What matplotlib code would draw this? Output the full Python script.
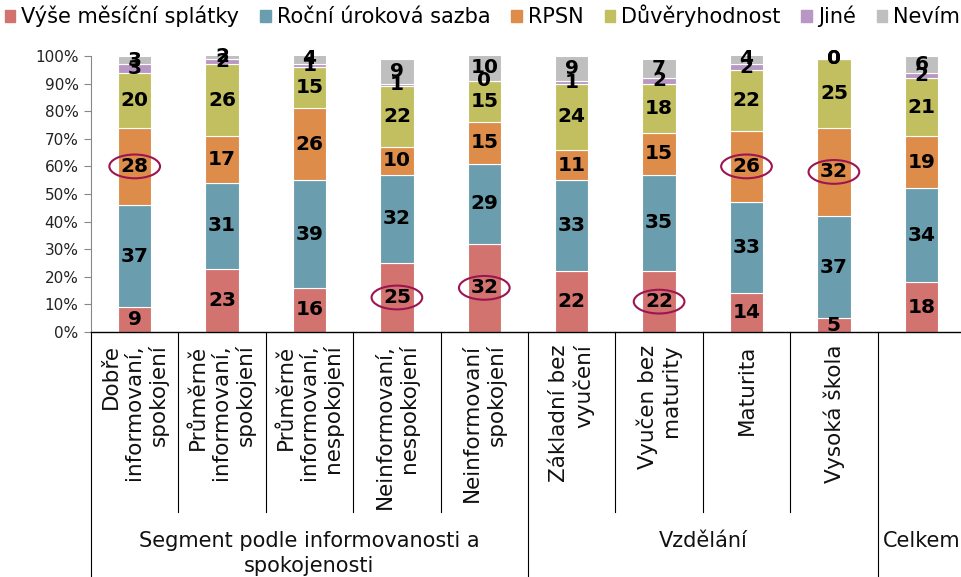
import numpy as np
import matplotlib
matplotlib.use("Agg")
import matplotlib.pyplot as plt
import matplotlib.patches as patches
from matplotlib.lines import Line2D
import matplotlib.transforms as mtransforms

categories = [
    "Dobře\ninformovaní,\nspokojení",
    "Průměrně\ninformovaní,\nspokojení",
    "Průměrně\ninformovaní,\nnespokojení",
    "Neinformovaní,\nnespokojení",
    "Neinformovaní\nspokojení",
    "Základní bez\nvyučení",
    "Vyučen bez\nmaturity",
    "Maturita",
    "Vysoká škola",
    "",
]
groups = ["Segment podle informovanosti a\nspokojenosti", "Vzdělání", "Celkem"]
group_spans = [(0, 4), (5, 8), (9, 9)]

series_names = ["Výše měsíční splátky", "Roční úroková sazba", "RPSN",
                "Důvěryhodnost", "Jiné", "Nevím"]
vyse = [9, 23, 16, 25, 32, 22, 22, 14, 5, 18]
rocni = [37, 31, 39, 32, 29, 33, 35, 33, 37, 34]
rpsn = [28, 17, 26, 10, 15, 11, 15, 26, 32, 19]
duvera = [20, 26, 15, 22, 15, 24, 18, 22, 25, 21]
jine = [3, 2, 1, 1, 0, 1, 2, 2, 0, 2]
nevim = [3, 2, 4, 9, 10, 9, 7, 4, 0, 6]

# (category, series) pairs that get a highlight ring
highlighted = [(0, 2), (3, 0), (4, 0), (6, 0), (7, 2), (8, 2)]

colors = ["#d27370", "#6a9eae", "#de8c4a", "#c2bf60", "#b997c5", "#bfbfbf"]

data = np.array([vyse, rocni, rpsn, duvera, jine, nevim], dtype=float)
x = np.arange(len(categories))

fig = plt.figure(figsize=(9.62, 5.77), dpi=100)
ax = fig.add_axes([91 / 962, 1 - 332 / 577, 874 / 962, 276 / 577])

bottom = np.zeros(len(categories))
for i, (name, vals) in enumerate(zip(series_names, data)):
    ax.bar(x, vals, bottom=bottom, width=0.38, color=colors[i],
           edgecolor="white", linewidth=0.8, label=name, zorder=2)
    for j, v in enumerate(vals):
        yc = bottom[j] + v / 2
        ax.text(x[j], yc, f"{v:.0f}", ha="center", va="center",
                fontsize=14.5, fontweight="bold", color="black", zorder=4,
                clip_on=False)
        if (j, i) in highlighted:
            ell = patches.Ellipse((x[j], yc), 0.58, 8.6, fill=False,
                                  edgecolor="#9c1550", linewidth=1.5,
                                  zorder=5, clip_on=False)
            ax.add_patch(ell)
    bottom += vals

ax.set_xlim(-0.5, 9.5)
ax.set_ylim(0, 100)
ax.set_yticks(np.arange(0, 101, 10))
ax.set_yticklabels([f"{t}%" for t in range(0, 101, 10)], fontsize=11,
                   color="#222222")
ax.tick_params(axis="y", direction="out", length=5, color="#888888", pad=4)
ax.set_xticks([])
for s in ["top", "right"]:
    ax.spines[s].set_visible(False)
ax.spines["left"].set_color("#888888")
ax.spines["bottom"].set_color("black")
ax.spines["bottom"].set_linewidth(1.0)

# category labels and separators below the axis
trans = mtransforms.blended_transform_factory(ax.transData, ax.transAxes)
for j, lab in enumerate(categories):
    if lab:
        ax.text(x[j], -0.045, lab, transform=trans, rotation=90, ha="center",
                va="top", multialignment="right", fontsize=15.5,
                color="#111111", linespacing=1.2)

group_edges = [-0.5, 4.5, 8.5]
for edge in np.arange(-0.5, 9.0, 1.0):
    low = -0.92 if edge in group_edges else -0.652
    ax.add_line(Line2D([edge, edge], [0, low], transform=trans,
                       color="black", linewidth=0.8, clip_on=False))

for name, (a, b) in zip(groups, group_spans):
    ax.text((a + b) / 2, -0.72, name, transform=trans, ha="center",
            va="top", fontsize=15, color="#111111", linespacing=1.3)

handles = [patches.Patch(color=c) for c in colors]
fig.legend(handles, series_names, loc="upper left", ncol=6,
           bbox_to_anchor=(-0.008, 1.014), frameon=False, fontsize=15,
           handlelength=0.5, handleheight=0.5, handletextpad=0.3,
           columnspacing=1.0, borderaxespad=0.2)

fig.savefig("out.png", dpi=100)
